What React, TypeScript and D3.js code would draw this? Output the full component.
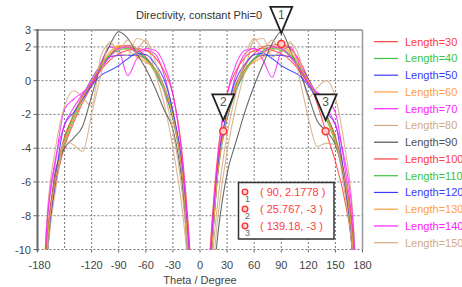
import React from 'react';
import * as d3 from 'd3';

// theta sample points (degrees), shared by every series
const THETA = [-180, -170, -160, -150, -140, -130, -120, -110, -100, -90, -80, -70, -60, -50, -40, -30, -20, -10, 0,
  10, 20, 30, 40, 50, 60, 70, 80, 90, 100, 110, 120, 130, 140, 150, 160, 170, 180];

const LENGTHS = [30, 40, 50, 60, 70, 80, 90, 100, 110, 120, 130, 140, 150];
const COLORS = ['#ff3b3b', '#3cc43c', '#3b3bff', '#ffa040', '#ff22ff', '#d2aa80', '#505050',
  '#ff3b3b', '#3cc43c', '#3b3bff', '#ffa040', '#ff22ff', '#d2aa80'];

// directivity (dBi) per Length
const D30 = [-22, -10.5, -6.2, -3.9, -2.5, -1.3, -0.3, 0.7, 1.5, 2.0, 2.1, 1.9, 1.4, 0.7, -0.4, -2.0, -5.0, -12, -22,
  -12.5, -4.9, -1.9, -0.2, 0.9, 1.6, 2.0, 2.1, 2.18, 1.9, 1.2, 0.1, -1.4, -3.1, -4.8, -7.0, -10.8, -22];
const D40 = [-22, -10.2, -5.9, -3.7, -2.3, -1.1, -0.1, 0.8, 1.5, 1.9, 2.0, 1.8, 1.3, 0.5, -0.6, -2.3, -5.4, -12.5, -22,
  -12.5, -5.4, -2.3, -0.6, 0.5, 1.3, 1.8, 2.0, 1.9, 1.5, 0.8, -0.1, -1.1, -2.3, -3.7, -5.9, -10.2, -22];
const D50 = [-22, -10.8, -6.0, -3.5, -2.0, -0.9, 0.1, 0.9, 1.4, 1.5, 1.5, 1.5, 1.3, 0.6, -0.5, -2.2, -5.3, -12.5, -22,
  -12.5, -5.3, -2.2, -0.5, 0.6, 1.3, 1.5, 1.5, 1.5, 1.4, 0.9, 0.1, -0.9, -2.0, -3.5, -6.0, -10.8, -22];
const D60 = [-22, -10.0, -5.6, -3.4, -2.0, -0.9, 0.0, 0.9, 1.6, 2.0, 1.8, 1.4, 1.1, 0.7, -0.3, -2.1, -5.2, -12, -22,
  -12, -5.2, -2.1, -0.3, 0.7, 1.1, 1.4, 1.8, 2.0, 1.6, 0.9, 0.0, -0.9, -2.0, -3.4, -5.6, -10.0, -22];
const D70 = [-22, -9.0, -4.8, -1.7, -1.1, -0.7, -0.2, 1.0, 2.0, 1.8, 0.3, 1.3, 1.8, 1.6, 0.4, -1.9, -5.0, -12, -22,
  -12, -5.0, -1.9, 0.4, 1.6, 1.9, 1.2, 0.2, 1.7, 2.0, 1.0, -0.2, -0.7, -1.1, -1.9, -5.0, -9.5, -22];
const D80 = [-22, -8.5, -4.0, -1.5, -0.6, -1.0, -1.5, 1.4, 2.2, 1.6, 1.5, 2.5, 2.3, 0.5, -1.3, -4.0, -7.5, -13, -22,
  -14, -8.0, -4.2, -1.5, 0.6, 2.4, 2.5, 1.4, 1.8, 2.2, 1.4, -1.0, -0.4, 0.0, -1.0, -3.8, -8.5, -22];
const D90 = [-22, -11, -5.3, -4.0, -3.4, -2.7, -0.9, 0.9, 2.1, 2.9, 2.5, 1.6, 0.7, -0.4, -1.7, -2.9, -6.0, -13, -22,
  -15, -9.0, -5.5, -3.6, -1.8, -0.3, 1.0, 2.2, 2.9, 1.8, 0.6, -0.9, -2.4, -3.0, -3.8, -6.0, -11, -22];
const D100 = [-22, -9.8, -5.6, -3.3, -2.1, -1.0, -0.2, 0.6, 1.2, 1.6, 1.8, 1.9, 1.8, 1.4, 0.6, -0.8, -4.2, -11, -22,
  -11, -4.2, -0.8, 0.6, 1.4, 1.8, 1.9, 1.8, 1.6, 1.2, 0.6, -0.2, -1.0, -2.1, -3.3, -5.6, -9.8, -22];
const D110 = [-22, -10.3, -5.7, -3.5, -2.1, -1.0, -0.1, 0.8, 1.5, 1.8, 1.9, 1.7, 1.3, 0.7, -0.3, -2.0, -5.2, -12.5, -22,
  -12.5, -5.2, -2.0, -0.3, 0.7, 1.3, 1.7, 1.9, 1.8, 1.5, 0.8, -0.1, -1.0, -2.1, -3.5, -5.7, -10.3, -22];
const D120 = [-22, -11, -5.8, -2.6, -1.9, -1.1, -0.3, 0.3, 0.6, 0.9, 1.3, 1.6, 1.55, 1.0, 0.1, -1.8, -5.0, -12, -22,
  -12, -5.0, -1.8, 0.1, 1.0, 1.55, 1.6, 1.3, 0.9, 0.6, 0.3, -0.3, -1.1, -1.9, -2.6, -5.8, -11, -22];
const D130 = [-22, -10.4, -5.8, -3.6, -2.2, -1.0, 0.0, 0.9, 1.7, 2.1, 2.0, 1.6, 1.2, 0.6, -0.4, -2.1, -5.3, -12.5, -22,
  -12.5, -5.3, -2.1, -0.4, 0.6, 1.2, 1.6, 2.0, 2.1, 1.7, 0.9, 0.0, -1.0, -2.2, -3.6, -5.8, -10.4, -22];
const D140 = [-22, -8.8, -4.6, -2.6, -1.6, -0.8, -0.1, 0.7, 1.4, 1.9, 2.0, 1.7, 1.9, 1.8, 1.0, -0.8, -4.5, -11.5, -22,
  -11.5, -4.5, -0.8, 1.0, 1.8, 1.9, 1.7, 2.0, 1.9, 1.4, 0.7, -0.1, -0.8, -1.6, -2.6, -4.6, -8.8, -22];
const D150 = [-22, -11, -6.5, -3.6, -3.8, -4.2, -2.0, 0.3, 2.3, 1.8, 2.4, 1.9, 2.4, 1.2, -0.6, -3.0, -6.5, -12.5, -22,
  -13, -7.0, -3.2, -0.7, 1.4, 2.5, 1.9, 2.4, 1.7, 2.3, 0.2, -2.2, -3.9, -3.7, -3.8, -6.5, -11, -22];

const SERIES = [D30, D40, D50, D60, D70, D80, D90, D100, D110, D120, D130, D140, D150];

const X_TICKS = [-180, -120, -90, -60, -30, 0, 30, 60, 90, 120, 150, 180];
const X_GRID = [-150, -120, -90, -60, -30, 0, 30, 60, 90, 120, 150];
const Y_TICKS = [3, 2, 0, -2, -4, -6, -8, -10];

const MARKER_THETA = [90, 25.767, 139.18];
const MARKER_VALUE = [2.1778, -3, -3];
const MARKER_TEXT = ['( 90, 2.1778 )', '( 25.767, -3 )', '( 139.18, -3 )'];

const W = 462;
const H = 287;
const FONT = '"Liberation Sans", Arial, sans-serif';

export default function App() {
  const plot = { left: 37.5, right: 362.5, top: 30, bottom: 249.5 };
  const x = d3.scaleLinear().domain([-180, 180]).range([plot.left, plot.right]);
  const y = d3.scaleLinear().domain([-10, 3]).range([plot.bottom, plot.top]);

  const line = d3.line<number>()
    .x((_, i) => x(THETA[i]))
    .y(d => y(d))
    .curve(d3.curveMonotoneX);

  return (
    <div style={{ position: 'fixed', left: 0, top: 0 }}>
      <svg width={W} height={H} style={{ display: 'block', background: '#fff' }} fontFamily={FONT}>
        <defs>
          <clipPath id="plot-clip">
            <rect x={plot.left} y={plot.top - 1} width={plot.right - plot.left} height={plot.bottom - plot.top + 1} />
          </clipPath>
        </defs>

        <text x={199} y={19} textAnchor="middle" fontSize={11} fill="#333">Directivity, constant Phi=0</text>

        {/* grid */}
        {X_GRID.map(t => (
          <line key={'gx' + t} x1={x(t)} x2={x(t)} y1={plot.top} y2={plot.bottom}
            stroke="#777" strokeWidth={1} strokeDasharray="2,2" />
        ))}
        {Y_TICKS.filter(v => v !== 3).map(v => (
          <line key={'gy' + v} x1={plot.left} x2={plot.right} y1={y(v)} y2={y(v)}
            stroke="#777" strokeWidth={1} strokeDasharray="2,2" />
        ))}

        {/* curves */}
        <g clipPath="url(#plot-clip)">
          {SERIES.map((s, i) => (
            <path key={LENGTHS[i]} d={line(s) || ''} fill="none" stroke={COLORS[i]} strokeWidth={1.1} strokeOpacity={0.85} />
          ))}
        </g>

        {/* frame */}
        <line x1={plot.left} x2={plot.right} y1={plot.top} y2={plot.top} stroke="#a8a8a8" strokeWidth={2} />
        <line x1={plot.right} x2={plot.right} y1={plot.top} y2={plot.bottom} stroke="#999" strokeWidth={1.5} />
        <line x1={plot.left} x2={plot.left} y1={plot.top - 1} y2={plot.bottom + 2} stroke="#666" strokeWidth={2} />

        {Y_TICKS.map(v => (
          <g key={'yt' + v}>
            <line x1={plot.left - 4} x2={plot.left} y1={y(v)} y2={y(v)} stroke="#666" strokeWidth={1} />
            <text x={31} y={y(v) + 4} textAnchor="end" fontSize={11} fill="#444">{v}</text>
          </g>
        ))}
        {X_TICKS.map(t => (
          <g key={'xt' + t}>
            <line x1={x(t)} x2={x(t)} y1={plot.bottom} y2={plot.bottom + 3} stroke="#666" strokeWidth={1} />
            <text x={x(t) + (t === -180 ? 2 : 0)} y={269} textAnchor="middle" fontSize={11} fill="#444">{t}</text>
          </g>
        ))}
        <text x={200} y={284} textAnchor="middle" fontSize={11} fill="#444">Theta / Degree</text>

        {/* markers */}
        {MARKER_THETA.map((t, i) => {
          const cx = x(t);
          const cy = y(MARKER_VALUE[i]);
          const tip = cy - 11;
          const top = tip - 26;
          return (
            <g key={'m' + i}>
              <path d={`M${cx - 11},${top} L${cx + 11},${top} L${cx},${tip} Z`} fill="#fff" stroke="#222" strokeWidth={1.8} strokeLinejoin="miter" />
              <text x={cx} y={top + 12} textAnchor="middle" fontSize={12} fill="#555">{i + 1}</text>
              <circle cx={cx} cy={cy} r={3.5} fill="#ffd0d0" stroke="#ff3030" strokeWidth={1.5} />
            </g>
          );
        })}

        {/* marker readout box */}
        <rect x={238.5} y={182.5} width={95.5} height={56.5} fill="#fff" stroke="#333" strokeWidth={1.5} />
        {MARKER_TEXT.map((txt, i) => {
          const ry = 192 + i * 17;
          return (
            <g key={'mt' + i}>
              <circle cx={245} cy={ry} r={2.8} fill="#ffd0d0" stroke="#ff3030" strokeWidth={1.3} />
              <text x={247.5} y={ry + 10} textAnchor="middle" fontSize={9} fill="#666">{i + 1}</text>
              <text x={260} y={ry + 4} fontSize={11} fill="#ff4040">{txt}</text>
            </g>
          );
        })}

        {/* legend */}
        {LENGTHS.map((len, i) => {
          const ly = 41.7 + i * 16.75;
          return (
            <g key={'lg' + len}>
              <line x1={374} x2={398} y1={ly} y2={ly} stroke={COLORS[i]} strokeWidth={1.2} />
              <text x={405} y={ly + 4} fontSize={11} fill={COLORS[i]}>{'Length=' + len}</text>
            </g>
          );
        })}
      </svg>
    </div>
  );
}
